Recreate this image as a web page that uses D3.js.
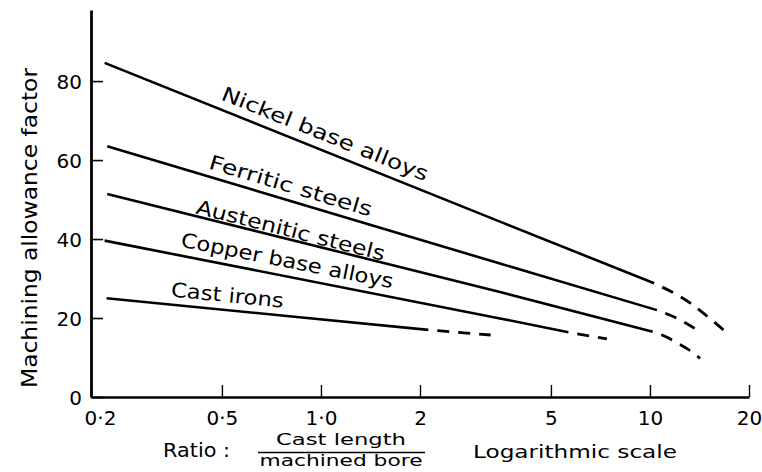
<!DOCTYPE html>
<html>
<head>
<meta charset="utf-8">
<script src="https://cdn.jsdelivr.net/npm/d3@7"></script>
<style>
    html, body { margin: 0; padding: 0; background: #ffffff; }
    #chart { width: 762px; height: 472px; }
    text { font-family: "DejaVu Sans", "Noto Sans", sans-serif; fill: #000; }
</style>
</head>
<body>
<div id="chart"></div>
<script>
// Machining allowance factor vs cast length / machined bore (log scale)
const ratioTicks = [0.2, 0.5, 1, 2, 5, 10, 20];
const ratioTickLabels = ['0·2', '0·5', '1·0', '2', '5', '10', '20'];
const factorTicks = [0, 20, 40, 60, 80];

const seriesNames = ['Nickel base alloys', 'Ferritic steels', 'Austenitic steels', 'Copper base alloys', 'Cast irons'];

const nickelSolid = [[0.22, 84.6], [3.5, 44.4], [10.3, 28.8]];
const nickelDashed = [[10.3, 28.8], [13.3, 23.7], [15.1, 20.1], [17.2, 16.1]];

const ferriticSolid = [[0.224, 63.5], [3.5, 33.8], [10.5, 22.0]];
const ferriticDashed = [[10.5, 22.0], [12.1, 19.9], [13.9, 17.0]];

const austeniticSolid = [[0.224, 51.4], [3.5, 26.6], [10.2, 16.5]];
const austeniticDashed = [[10.2, 16.5], [11.1, 15.4], [12.1, 13.7], [13.0, 12.2], [14.2, 9.8]];

const copperSolid = [[0.22, 39.6], [3.5, 19.9], [5.65, 16.4]];
const copperDashed = [[5.65, 16.4], [7.4, 14.7]];

const castSolid = [[0.223, 25.0], [0.86, 20.2], [2.12, 17.0]];
const castDashed = [[2.12, 17.0], [3.28, 15.7]];

const solidLines = [nickelSolid, ferriticSolid, austeniticSolid, copperSolid, castSolid];
const dashedLines = [nickelDashed, ferriticDashed, austeniticDashed, copperDashed, castDashed];

// label layout: where the label starts (as a ratio), gap above the line, text length
const labelLayout = [
    { start: 0.493, gap: 10, length: 221 },
    { start: 0.453, gap: 8, length: 169 },
    { start: 0.414, gap: 3, length: 194 },
    { start: 0.373, gap: 9, length: 216 },
    { start: 0.349, gap: 8, length: 113 }
];

class AllowanceChart {
    constructor() {
        this.svg = null;
        this.margin = { top: 10, right: 13, bottom: 75, left: 91 };
    }

    render(containerId, containerWidth, containerHeight) {
        const m = this.margin;
        const width = containerWidth - m.left - m.right;
        const height = containerHeight - m.top - m.bottom;

        d3.select(containerId).selectAll('*').remove();

        this.svg = d3.select(containerId)
            .append('svg')
            .attr('width', containerWidth)
            .attr('height', containerHeight);

        const g = this.svg.append('g')
            .attr('transform', `translate(${m.left},${m.top})`);

        const xScale = d3.scaleLog()
            .domain([0.2, 20])
            .range([0, width]);

        const yScale = d3.scaleLinear()
            .domain([0, 98])
            .range([height, 0]);

        // Y axis, ticks pointing into the plot
        const yAxis = g.append('g')
            .attr('class', 'y-axis')
            .call(d3.axisLeft(yScale)
                .tickValues(factorTicks)
                .tickSize(-12)
                .tickSizeOuter(0)
                .tickPadding(9));
        yAxis.select('.domain').attr('stroke', '#000').attr('stroke-width', 2.8);
        yAxis.selectAll('.tick line').attr('stroke', '#000').attr('stroke-width', 1.6);
        yAxis.selectAll('.tick text')
            .attr('dy', '0.36em')
            .style('font-family', '"DejaVu Sans", sans-serif')
            .style('font-size', '20px');

        // X axis, log scale
        const xAxis = g.append('g')
            .attr('class', 'x-axis')
            .attr('transform', `translate(0,${height})`)
            .call(d3.axisBottom(xScale)
                .tickValues(ratioTicks)
                .tickFormat((d, i) => ratioTickLabels[i])
                .tickSize(-12)
                .tickSizeOuter(0));
        xAxis.select('.domain').attr('stroke', '#000').attr('stroke-width', 2.6);
        xAxis.selectAll('.tick line').attr('stroke', '#000').attr('stroke-width', 1.4);
        xAxis.selectAll('.tick text')
            .attr('y', 28)
            .attr('dy', 0)
            .attr('dx', d => d === 0.2 ? 9 : 0)
            .style('font-family', '"DejaVu Sans", sans-serif')
            .style('font-size', '20px');

        const line = d3.line()
            .x(d => xScale(d[0]))
            .y(d => yScale(d[1]));

        const curve = d3.line()
            .x(d => xScale(d[0]))
            .y(d => yScale(d[1]))
            .curve(d3.curveMonotoneX);

        // Solid curves
        g.selectAll('.solid')
            .data(solidLines)
            .enter()
            .append('path')
            .attr('class', 'solid')
            .attr('d', line)
            .attr('fill', 'none')
            .attr('stroke', '#000')
            .attr('stroke-width', 2.6);

        // Dashed extrapolations, starting with a gap
        g.selectAll('.dashed')
            .data(dashedLines)
            .enter()
            .append('path')
            .attr('class', 'dashed')
            .attr('d', curve)
            .attr('fill', 'none')
            .attr('stroke', '#000')
            .attr('stroke-width', 2.8)
            .attr('stroke-dasharray', '12,9')
            .attr('stroke-dashoffset', 12);

        // Labels sitting along each line
        seriesNames.forEach((name, i) => {
            const pts = solidLines[i];
            const first = pts[0];
            const last = pts[pts.length - 1];
            const x0 = xScale(first[0]), y0 = yScale(first[1]);
            const x1 = xScale(last[0]), y1 = yScale(last[1]);
            const slope = (y1 - y0) / (x1 - x0);
            const angle = Math.atan(slope) * 180 / Math.PI;
            const lx = xScale(labelLayout[i].start);
            const ly = y0 + (lx - x0) * slope - labelLayout[i].gap;

            g.append('text')
                .attr('transform', `translate(${lx},${ly}) rotate(${angle})`)
                .attr('textLength', labelLayout[i].length)
                .attr('lengthAdjust', 'spacingAndGlyphs')
                .style('font-size', '20px')
                .text(name);
        });

        // Y axis label
        this.svg.append('text')
            .attr('text-anchor', 'middle')
            .attr('transform', 'rotate(-90)')
            .attr('x', -228)
            .attr('y', 37)
            .attr('textLength', 320)
            .attr('lengthAdjust', 'spacingAndGlyphs')
            .style('font-size', '21px')
            .text('Machining allowance factor');

        // X axis label: Ratio : cast length / machined bore   Logarithmic scale
        this.svg.append('text')
            .attr('x', 163)
            .attr('y', 457)
            .attr('textLength', 67)
            .attr('lengthAdjust', 'spacingAndGlyphs')
            .style('font-size', '19px')
            .text('Ratio :');

        this.svg.append('text')
            .attr('x', 341)
            .attr('y', 445)
            .attr('text-anchor', 'middle')
            .attr('textLength', 130)
            .attr('lengthAdjust', 'spacingAndGlyphs')
            .style('font-size', '15px')
            .text('Cast length');

        this.svg.append('line')
            .attr('x1', 258)
            .attr('x2', 425)
            .attr('y1', 452.5)
            .attr('y2', 452.5)
            .attr('stroke', '#000')
            .attr('stroke-width', 1.5);

        this.svg.append('text')
            .attr('x', 341)
            .attr('y', 466)
            .attr('text-anchor', 'middle')
            .attr('textLength', 163)
            .attr('lengthAdjust', 'spacingAndGlyphs')
            .style('font-size', '15px')
            .text('machined bore');

        this.svg.append('text')
            .attr('x', 473)
            .attr('y', 458)
            .attr('textLength', 204)
            .attr('lengthAdjust', 'spacingAndGlyphs')
            .style('font-size', '18px')
            .text('Logarithmic scale');
    }
}

const chart = new AllowanceChart();
chart.render('#chart', 762, 472);
</script>
</body>
</html>
